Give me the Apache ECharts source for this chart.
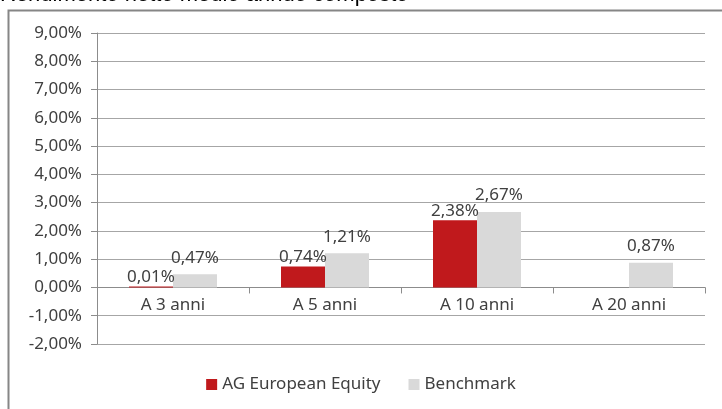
<!DOCTYPE html>
<html lang="it">
<head>
    <meta charset="utf-8">
    <title>Rendimento netto medio annuo composto</title>
    <script src="https://cdn.jsdelivr.net/npm/echarts@6/dist/echarts.min.js"></script>
    <style>
        html, body { margin: 0; padding: 0; background: #fff; }
        #main { width: 722px; height: 409px; }
    </style>
</head>
<body>
    <div id="main"></div>
    <script>
        var categories = ['A 3 anni', 'A 5 anni', 'A 10 anni', 'A 20 anni'];
        var fundValues = [0.01, 0.74, 2.38, null];
        var benchValues = [0.47, 1.21, 2.67, 0.87];

        var font = 'Noto Sans';
        function pct(v) {
            return v.toFixed(2).replace('.', ',') + '%';
        }

        var chart = echarts.init(document.getElementById('main'));
        chart.setOption({
            animation: false,
            textStyle: { fontFamily: font },
            graphic: [
                {
                    type: 'rect',
                    shape: { x: 8.5, y: 10.5, width: 900, height: 600 },
                    style: { fill: 'none', stroke: '#868686', lineWidth: 2 }
                },
                {
                    type: 'text',
                    left: 0,
                    top: -16,
                    style: {
                        text: 'Rendimento netto medio annuo composto',
                        font: '22px "Liberation Sans"',
                        fill: '#000'
                    }
                }
            ],
            grid: { left: 97, right: 17, top: 33, bottom: 65 },
            legend: {
                bottom: 11,
                left: 'center',
                itemWidth: 11,
                itemHeight: 11,
                itemGap: 28,
                icon: 'rect',
                textStyle: { fontSize: 17, color: '#404040', fontFamily: font },
                data: ['AG European Equity', 'Benchmark']
            },
            xAxis: {
                type: 'category',
                data: categories,
                axisLine: { lineStyle: { color: '#8c8c8c', width: 1 } },
                axisTick: { show: true, length: 6, lineStyle: { color: '#8c8c8c' } },
                axisLabel: { fontSize: 17, color: '#404040', margin: -47 }
            },
            yAxis: {
                type: 'value',
                min: -2,
                max: 9,
                interval: 1,
                axisLine: { show: true, lineStyle: { color: '#8c8c8c' } },
                axisTick: { show: true, length: 6, lineStyle: { color: '#8c8c8c' } },
                splitLine: { lineStyle: { color: '#a6a6a6' } },
                axisLabel: {
                    fontSize: 17,
                    color: '#404040',
                    margin: 15,
                    formatter: pct
                }
            },
            series: [
                {
                    name: 'AG European Equity',
                    type: 'bar',
                    data: fundValues,
                    barWidth: 44,
                    barGap: '0%',
                    barMinHeight: 1,
                    itemStyle: { color: '#c0191c' },
                    label: {
                        show: true,
                        position: 'top',
                        distance: 1,
                        fontSize: 17,
                        color: '#404040',
                        formatter: function (p) { return pct(p.value); }
                    }
                },
                {
                    name: 'Benchmark',
                    type: 'bar',
                    data: benchValues,
                    barWidth: 44,
                    barGap: '0%',
                    itemStyle: { color: '#d9d9d9' },
                    label: {
                        show: true,
                        position: 'top',
                        distance: 8,
                        fontSize: 17,
                        color: '#404040',
                        formatter: function (p) { return pct(p.value); }
                    }
                }
            ]
        });
        window.onresize = chart.resize;
    </script>
</body>
</html>
